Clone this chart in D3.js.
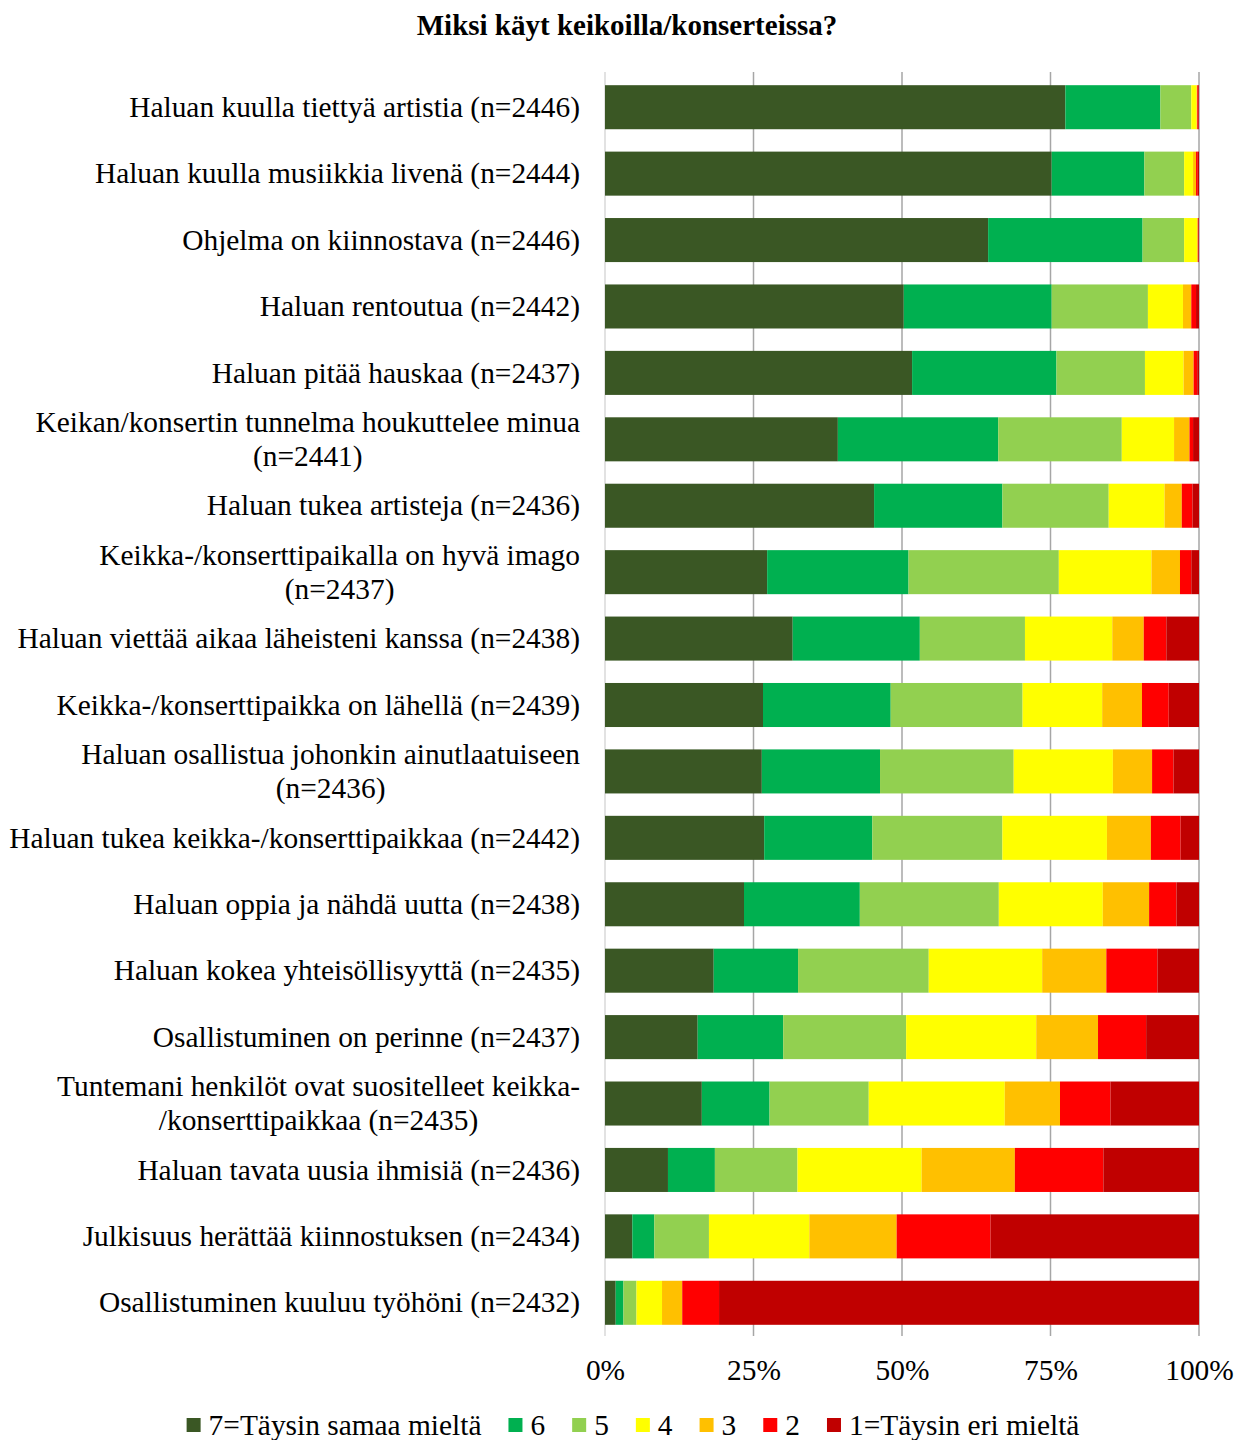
<!DOCTYPE html>
<html><head><meta charset="utf-8">
<script src="https://cdn.jsdelivr.net/npm/d3@7"></script>
<style>
html,body{margin:0;padding:0;background:#fff;}
svg{display:block;font-family:"Liberation Serif","Times New Roman",serif;}
</style></head>
<body>
<svg id="chart" width="1236" height="1440"></svg>
<script>
const title = "Miksi käyt keikoilla/konserteissa?";
const categories = [
  ["Haluan kuulla tiettyä artistia (n=2446)"],
  ["Haluan kuulla musiikkia livenä (n=2444)"],
  ["Ohjelma on kiinnostava (n=2446)"],
  ["Haluan rentoutua (n=2442)"],
  ["Haluan pitää hauskaa (n=2437)"],
  ["Keikan/konsertin tunnelma houkuttelee minua", "(n=2441)"],
  ["Haluan tukea artisteja (n=2436)"],
  ["Keikka-/konserttipaikalla on hyvä imago", "(n=2437)"],
  ["Haluan viettää aikaa läheisteni kanssa (n=2438)"],
  ["Keikka-/konserttipaikka on lähellä (n=2439)"],
  ["Haluan osallistua johonkin ainutlaatuiseen", "(n=2436)"],
  ["Haluan tukea keikka-/konserttipaikkaa (n=2442)"],
  ["Haluan oppia ja nähdä uutta (n=2438)"],
  ["Haluan kokea yhteisöllisyyttä (n=2435)"],
  ["Osallistuminen on perinne (n=2437)"],
  ["Tuntemani henkilöt ovat suositelleet keikka-", "/konserttipaikkaa (n=2435)"],
  ["Haluan tavata uusia ihmisiä (n=2436)"],
  ["Julkisuus herättää kiinnostuksen (n=2434)"],
  ["Osallistuminen kuuluu työhöni (n=2432)"]
];
const seriesNames = ["7=Täysin samaa mieltä","6","5","4","3","2","1=Täysin eri mieltä"];
const seriesColors = ["#3a5724","#00b050","#92d050","#ffff00","#ffc000","#ff0000","#c00000"];
const s7 = [77.5,75.2,64.5,50.3,51.7,39.2,45.3,27.3,31.6,26.6,26.4,26.8,23.4,18.3,15.6,16.3,10.6,4.6,1.8];
const s6 = [16.0,15.6,26.0,24.9,24.3,27.0,21.6,23.8,21.4,21.5,19.9,18.2,19.5,14.2,14.4,11.4,7.9,3.7,1.3];
const s5 = [5.2,6.7,7.0,16.2,14.9,20.8,17.9,25.3,17.7,22.2,22.5,21.9,23.4,22.0,20.7,16.7,13.9,9.2,2.2];
const s4 = [0.9,1.5,2.2,5.9,6.5,8.8,9.4,15.6,14.7,13.4,16.7,17.6,17.5,19.1,21.9,22.9,20.9,16.9,4.3];
const s3 = [0.1,0.5,0.1,1.4,1.7,2.6,2.9,4.8,5.3,6.7,6.6,7.4,7.8,10.8,10.4,9.3,15.7,14.7,3.4];
const s2 = [0.2,0.3,0.1,0.8,0.6,0.6,1.8,1.9,3.8,4.5,3.6,5.0,4.6,8.6,8.1,8.5,14.9,15.8,6.2];
const s1 = [0.1,0.2,0.1,0.5,0.3,1.0,1.1,1.3,5.5,5.1,4.3,3.1,3.8,7.0,8.9,14.9,16.1,35.1,80.8];
const seriesValues = [s7,s6,s5,s4,s3,s2,s1];
const tickValues = [0,0.25,0.5,0.75,1];

const svg = d3.select("#chart");
const plotLeft = 605, plotRight = 1199, plotTop = 74, plotBottom = 1336;
const FONT = "'Liberation Serif','Times New Roman',serif";

const rows = categories.map((c,i)=>{
  const o = {idx:i};
  seriesNames.forEach((s,k)=>{ o[s] = seriesValues[k][i]; });
  return o;
});
const stack = d3.stack().keys(seriesNames).offset(d3.stackOffsetExpand);
const layers = stack(rows);

const x = d3.scaleLinear().domain([0,1]).range([plotLeft, plotRight]);
const y = d3.scaleBand().domain(d3.range(categories.length)).range([plotTop, plotBottom]).paddingInner(0.337).paddingOuter(0.1685);

// title
svg.append("text").attr("x", 627).attr("y", 35).attr("text-anchor","middle")
  .attr("font-size", 29).attr("font-weight","bold").attr("fill","#000").text(title);

// gridlines
svg.append("g").selectAll("line").data(tickValues).join("line")
  .attr("x1", d=>x(d)).attr("x2", d=>x(d))
  .attr("y1", plotTop-2).attr("y2", plotBottom)
  .attr("stroke", d=> d===0 ? "#d9d9d9" : "#a6a6a6").attr("stroke-width", 1.5);

// bars
svg.append("g").selectAll("g").data(layers).join("g")
  .attr("fill", (d,k)=>seriesColors[k])
  .selectAll("rect").data(d=>d).join("rect")
  .attr("x", d=>x(d[0])).attr("width", d=>Math.max(0, x(d[1])-x(d[0])))
  .attr("y", (d,i)=>y(i)).attr("height", y.bandwidth());

// x axis tick labels
const xAxis = d3.axisBottom(x).tickValues(tickValues).tickFormat(d3.format(".0%")).tickSize(0).tickPadding(0);
const ax = svg.append("g").attr("transform", `translate(0,${plotBottom+23})`).call(xAxis);
ax.select(".domain").remove();
ax.selectAll("text").attr("font-size", 29.4).attr("fill","#000").attr("font-family", FONT);

// category labels
const labelRight = 580, fs = 29.4, lh = 34;
const lg = svg.append("g").attr("font-size", fs).attr("fill","#000");
categories.forEach((lines,i)=>{
  const cy = y(i) + y.bandwidth()/2;
  if (lines.length === 1) {
    lg.append("text").attr("x", labelRight).attr("y", cy).attr("dy","0.33em")
      .attr("text-anchor","end").text(lines[0]);
  } else {
    const t0 = lg.append("text").attr("x", labelRight).attr("y", cy - lh/2).attr("dy","0.33em")
      .attr("text-anchor","end").text(lines[0]);
    const w0 = t0.node().getComputedTextLength();
    lg.append("text").attr("x", labelRight - w0/2).attr("y", cy + lh/2).attr("dy","0.33em")
      .attr("text-anchor","middle").text(lines[1]);
  }
});

// legend
const leg = svg.append("g").attr("font-size", fs).attr("fill","#000");
const legY = 1425, sq = 14, gapSq = 8, gapItem = 27;
const items = seriesNames.map((n,k)=>{
  const g = leg.append("g");
  g.append("rect").attr("width", sq).attr("height", sq).attr("y", legY - sq/2).attr("fill", seriesColors[k]);
  const t = g.append("text").attr("x", sq+gapSq).attr("y", legY).attr("dy","0.35em").text(n);
  return {g, w: sq + gapSq + t.node().getComputedTextLength()};
});
const total = d3.sum(items, d=>d.w) + gapItem*(items.length-1);
let cx = 633 - total/2;
items.forEach(it=>{ it.g.attr("transform", `translate(${cx},0)`); cx += it.w + gapItem; });
</script>
</body></html>
